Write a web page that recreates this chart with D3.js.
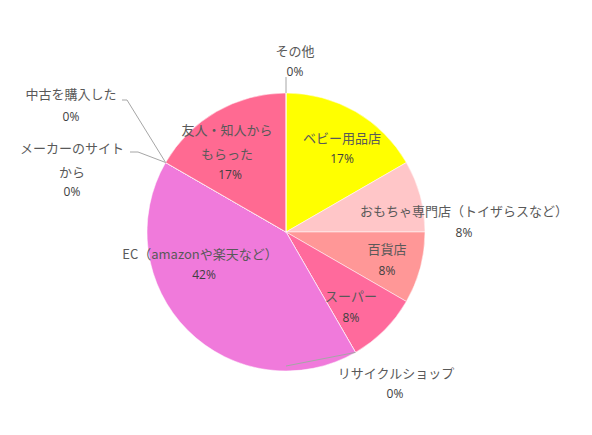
<!DOCTYPE html>
<html lang="ja">
<head>
<meta charset="UTF-8">
<title>pie</title>
<script src="https://cdnjs.cloudflare.com/ajax/libs/d3/7.8.4/d3.min.js"></script>
<style>
  html, body { margin: 0; padding: 0; background: #fff; }
  .name { font-family: "Noto Sans CJK JP", "Noto Sans", sans-serif; font-size: 13px; fill: #595959; }
  .pct { font-family: "Open Sans", "Noto Sans", sans-serif; font-size: 12px; fill: #404040; }
</style>
</head>
<body>
<div id="chart"></div>
<script>
// 回答数（12件）
const categories = ["ベビー用品店", "おもちゃ専門店（トイザらスなど）", "百貨店", "スーパー", "リサイクルショップ",
  "EC（amazonや楽天など）", "メーカーのサイト\nから", "中古を購入した", "友人・知人から\nもらった", "その他"];
const counts = [2, 1, 1, 1, 0, 5, 0, 0, 2, 0];
const colors = ["#ffff00", "#ffc6c8", "#ff9797", "#ff6a9c", "#ff6a9c", "#f07adb", "#f07adb", "#ff6a92", "#ff6a92", "#ff6a92"];

const w = 592, h = 435;
const cx = 286, cy = 232, r = 139;

// ラベル位置（中心からの相対位置）: [名前x, 1行目y, %のx, %のy]
const labelPos = [
  [56, -95, 56, -74], [178, -22, 178, 0], [101, 16, 101, 38], [65, 63, 65, 85], [110, 140, 109, 161],
  [-86, 21, -82, 42], [-214, -85, -214, -41], [-215, -139, -215, -116], [-59, -103, -56, -58], [9, -182, 9, -161]
];
// 0%の項目の引き出し線（ラベル側の点）
const leaders = {
  4: [[0, 134]],
  6: [[-148, -80], [-156, -80]],
  7: [[-159, -132], [-164, -132]],
  9: [[0, -155]]
};

const total = d3.sum(counts);
const fmt = d3.format(".0%");

const svg = d3.select("#chart").append("svg")
  .attr("width", w).attr("height", h);

const g = svg.append("g").attr("transform", `translate(${cx},${cy})`);

const pie = d3.pie().sort(null).value(d => d);
const arcs = pie(counts);
const arc = d3.arc().innerRadius(0).outerRadius(r);

g.selectAll("path.slice")
  .data(arcs)
  .enter().append("path")
  .attr("class", "slice")
  .attr("d", arc)
  .attr("fill", (d, i) => colors[i])
  .attr("stroke", "#fff")
  .attr("stroke-width", 0.5);

// 引き出し線
Object.keys(leaders).forEach(k => {
  const a = arcs[+k].startAngle;
  const p0 = [r * Math.sin(a), -r * Math.cos(a)];
  const pts = [p0].concat(leaders[k]);
  g.append("path")
    .attr("d", d3.line()(pts))
    .attr("fill", "none")
    .attr("stroke", "#a6a6a6")
    .attr("stroke-width", 1);
});

// ラベル
arcs.forEach((d, i) => {
  const [lx, ly, px, py] = labelPos[i];
  const lines = categories[i].split("\n");
  lines.forEach((t, j) => {
    g.append("text")
      .attr("class", "name")
      .attr("x", lx)
      .attr("y", ly + j * 24)
      .attr("text-anchor", "middle")
      .attr("dominant-baseline", "central")
      .text(t);
  });
  g.append("text")
    .attr("class", "pct")
    .attr("x", px)
    .attr("y", py)
    .attr("text-anchor", "middle")
    .attr("dominant-baseline", "central")
    .text(fmt(d.data / total));
});
</script>
</body>
</html>
